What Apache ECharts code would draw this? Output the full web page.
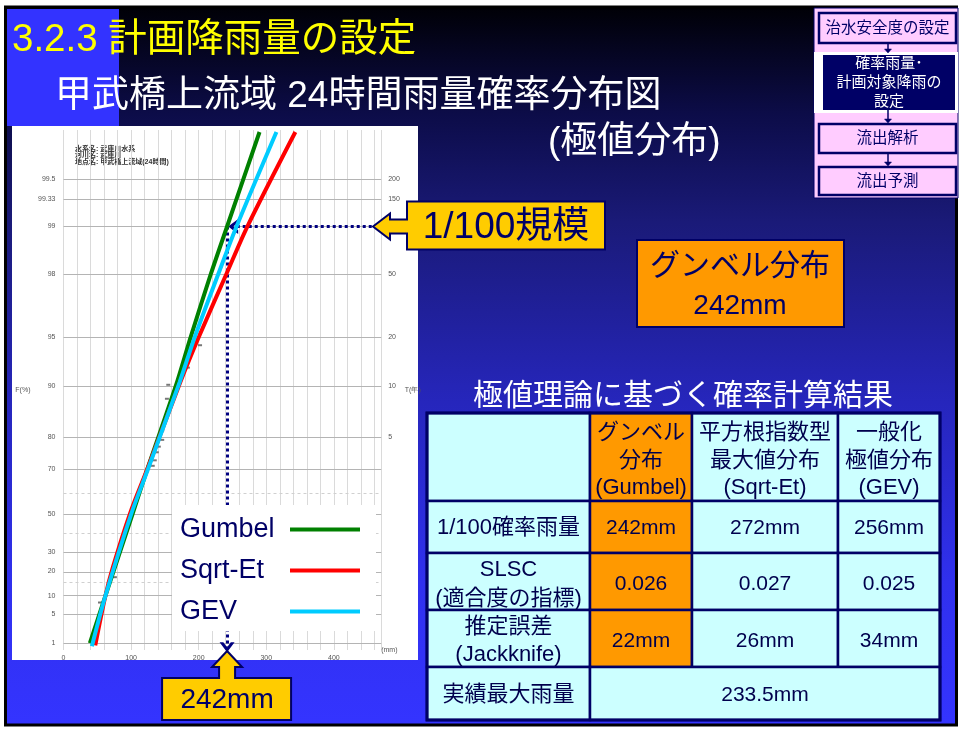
<!DOCTYPE html>
<html>
<head>
<meta charset="utf-8">
<script src="https://cdn.jsdelivr.net/npm/echarts@6/dist/echarts.min.js"></script>
<style>
html,body{margin:0;padding:0;background:#fff;}
#c{width:960px;height:731px;}
</style>
</head>
<body>
<div id="c"></div>
<script>
// ---- Gumbel probability paper: tick labels ----
const probTicks = ['1', '5', '10', '20', '30', '50', '70', '80', '90', '95', '98', '99', '99.33', '99.5'];
const periodTicks = ['5', '10', '20', '50', '100', '150', '200'];
const minorProbs = ['40', '60', '15'];

// ---- fitted distributions: [24h rainfall (mm), non-exceedance probability (%)] ----
const gumbelPts = [[39, 1], [62, 10], [102, 50], [125, 70.7], [166, 90], [188, 95], [218, 98], [242, 99], [290, 99.75]];
const sqrtEtPts = [[47, 0.85], [62, 10], [73, 22], [98, 50], [125, 70.7], [173, 90.6], [200, 95], [241, 98], [272, 99], [343, 99.75]];
const gevPts = [[42, 0.8], [62, 10], [100, 50], [126, 70.7], [172, 90.6], [194, 95], [229, 98], [256, 99], [315, 99.75]];

// ---- plotted annual maxima ----
const observedPts = [[202, 94.4], [184, 92.3], [155, 90.2], [153, 88.1], [146, 81.7], [146, 79.3], [141, 77.4], [138, 75.7], [135, 73.1], [132, 71.2], [76, 17.4], [54, 7.9]];

// ---- design rainfall (1/100) ----
const designRain = 242;
const designProb = 99;

// ---- results table ----
const methodHeads = [['グンベル', '分布', '(Gumbel)'], ['平方根指数型', '最大値分布', '(Sqrt-Et)'], ['一般化', '極値分布', '(GEV)']];
const rowHeads = [['1/100確率雨量'], ['SLSC', '(適合度の指標)'], ['推定誤差', '(Jackknife)'], ['実績最大雨量']];
const rain100 = ['242mm', '272mm', '256mm'];
const slscVals = ['0.026', '0.027', '0.025'];
const jackknifeVals = ['22mm', '26mm', '34mm'];
const observedMax = '233.5mm';

// ---- planning flow ----
const flowSteps = ['治水安全度の設定', ['確率雨量･', '計画対象降雨の', '設定'], '流出解析', '流出予測'];

const FONT = '"Liberation Sans","Noto Sans CJK JP",sans-serif';
const NAVY = '#000066';
const TXT = '#00004d';

// Gumbel reduced variate of a non-exceedance probability in %
const gv = p => -Math.log(-Math.log(p / 100));
const toXY = pts => pts.map(([mm, p]) => [mm, gv(p)]);
const probVals = probTicks.map(t => gv(+t));
const periodVals = periodTicks.map(t => gv(100 * (1 - 1 / +t)));
const nearest = (vals, labels) => v => {
  let bi = 0;
  vals.forEach((x, i) => { if (Math.abs(x - v) < Math.abs(vals[bi] - v)) bi = i; });
  return labels[bi];
};

const chart = echarts.init(document.getElementById('c'));

const chevron = 'path://M0,12 L8,0 L16,12 L12,12 L8,6 L4,12 Z';

chart.setOption({
  animation: false,
  grid: { left: 63.5, top: 130, width: 317.7, height: 520 },
  xAxis: {
    type: 'value', min: 0, max: 470, interval: 20,
    axisLine: { show: false, onZero: false }, axisTick: { show: false },
    splitLine: { lineStyle: { color: '#dadada', width: 1 } },
    axisLabel: { fontSize: 7, color: '#555', margin: 5, showMaxLabel: false,
      formatter: v => (v % 100 === 0 ? String(v) : '') },
    name: '(mm)', nameLocation: 'end', nameGap: 0,
    nameTextStyle: { fontSize: 7, color: '#555', padding: [12, 0, 0, 0] }
  },
  yAxis: [{
    type: 'value', min: -1.63, max: 6.02,
    axisLine: { show: false, onZero: false }, axisTick: { show: false }, splitLine: { show: false },
    axisLabel: { customValues: probVals, formatter: nearest(probVals, probTicks), fontSize: 7, color: '#555', margin: 8 },
    name: 'F(%)', nameLocation: 'middle', nameRotate: 0, nameGap: 33,
    nameTextStyle: { fontSize: 7, color: '#555' }
  }, {
    type: 'value', min: -1.63, max: 6.02, position: 'right',
    axisLine: { show: false, onZero: false }, axisTick: { show: false }, splitLine: { show: false },
    axisLabel: { customValues: periodVals, formatter: nearest(periodVals, periodTicks), fontSize: 7, color: '#555', margin: 7 },
    name: 'T(年)', nameLocation: 'middle', nameRotate: 0, nameGap: 22,
    nameTextStyle: { fontSize: 7, color: '#555' }
  }],
  legend: {
    data: ['Gumbel', 'Sqrt-Et', 'GEV'],
    orient: 'vertical', left: 172, top: 505, align: 'right',
    backgroundColor: '#ffffff',
    padding: [11, 16, 6, 8], itemGap: 14,
    icon: 'rect', itemWidth: 70, itemHeight: 4, selectedMode: false,
    formatter: name => '{t|' + name + '}',
    textStyle: { fontSize: 27, color: NAVY, fontFamily: FONT,
      rich: { t: { width: 105, align: 'left', fontSize: 27, color: NAVY, fontFamily: FONT } } }
  },
  series: [
    {
      name: 'obs', type: 'scatter', data: toXY(observedPts),
      symbol: 'rect', symbolSize: [4, 2], itemStyle: { color: '#555' }, silent: true, z: 1,
      markLine: {
        z: 1, silent: true, symbol: 'none', label: { show: false }, animation: false,
        lineStyle: { color: '#b4b4b4', width: 1, type: 'solid' },
        data: probVals.map(v => ({ yAxis: v })).concat(
          minorProbs.map(t => ({ yAxis: gv(+t), lineStyle: { color: '#d0d0d0', type: [3, 3] } })))
      }
    },
    { name: 'Gumbel', type: 'line', data: toXY(gumbelPts), smooth: 0.3, showSymbol: false,
      lineStyle: { color: '#008000', width: 4 }, itemStyle: { color: '#008000' }, silent: true },
    { name: 'Sqrt-Et', type: 'line', data: toXY(sqrtEtPts), smooth: 0.3, showSymbol: false,
      lineStyle: { color: '#ff0000', width: 4 }, itemStyle: { color: '#ff0000' }, silent: true },
    { name: 'GEV', type: 'line', data: toXY(gevPts), smooth: 0.3, showSymbol: false,
      lineStyle: { color: '#00ccff', width: 4 }, itemStyle: { color: '#00ccff' }, silent: true },
    {
      name: 'design', type: 'line', data: [[designRain, gv(designProb)]], showSymbol: false,
      lineStyle: { opacity: 0 }, silent: true, z: 3,
      markLine: {
        z: 3, silent: true, label: { show: false }, animation: false,
        symbol: ['none', chevron], symbolSize: [15, 10],
        lineStyle: { color: '#000080', width: 3, type: [3, 3] },
        data: [
          [{ coord: [456, gv(designProb)] }, { coord: [designRain + 9, gv(designProb)] }],
          [{ coord: [designRain, gv(designProb)] }, { coord: [designRain, gv(0.75)] }]
        ]
      }
    }
  ]
});

// ---- slide decoration (graphic layer) ----
const els = [];
const rect = (x, y, w, h, fill, stroke, lw, z) => els.push({
  type: 'rect', silent: true, z: z, shape: { x, y, width: w, height: h },
  style: { fill, stroke: stroke || null, lineWidth: lw || 0 }
});
const text = (x, y, str, size, color, align, z, weight) => els.push({
  type: 'text', silent: true, z: z == null ? 40 : z, x, y,
  style: { text: str, fill: color, fontSize: size, fontFamily: FONT, fontWeight: weight || 'normal',
    align: align || 'center', verticalAlign: 'middle' }
});
const poly = (pts, fill, stroke, lw, z) => els.push({
  type: 'polygon', silent: true, z, shape: { points: pts }, style: { fill, stroke, lineWidth: lw }
});

// slide background
els.push({
  type: 'rect', silent: true, z: -20, shape: { x: 5.5, y: 7, width: 951, height: 718 },
  style: {
    stroke: '#000', lineWidth: 3,
    fill: { type: 'linear', x: 0, y: 0, x2: 0, y2: 1, colorStops: [
      { offset: 0, color: '#000005' }, { offset: 0.15, color: '#0c0c48' }, { offset: 0.3, color: '#1a1a78' },
      { offset: 0.55, color: '#2626bc' }, { offset: 0.8, color: '#3030ee' }, { offset: 1, color: '#3434ff' }] }
  }
});
rect(7, 9, 112, 117, '#3333ff', null, 0, -19);
// chart paper
rect(12, 126, 406, 534, '#ffffff', null, 0, -18);
text(75, 149, '水系名: 武庫川水系', 7, '#333', 'left', -17, 'bold');
text(75, 155.5, '河川名: 武庫川', 7, '#333', 'left', -17, 'bold');
text(75, 162, '地点名: 甲武橋上流域(24時間)', 7, '#333', 'left', -17, 'bold');

// titles
text(12, 40, '3.2.3 計画降雨量の設定', 38.5, '#ffff00', 'left');
text(55, 97, '甲武橋上流域 24時間雨量確率分布図', 37, '#ffffff', 'left');
text(548, 143, '(極値分布)', 37, '#ffffff', 'left');

// planning flow panel
rect(814, 8, 144, 190, '#ffccff', NAVY, 1, 10);
const boxes = [[13, 30], [55, 55], [124, 29], [167, 28]];
rect(814, 52, 144, 61, '#ffffff', null, 0, 11);
boxes.forEach(([y, h], i) => {
  if (i === 1) {
    rect(823, y, 132, h, '#000066', null, 0, 12);
    flowSteps[1].forEach((s, k) => text(889, 64 + k * 19, s, 15, '#ffffff', 'center', 13));
  } else {
    rect(819, y, 137, h, '#ffccff', NAVY, 2.5, 12);
    text(887.5, y + h / 2 + 0.5, flowSteps[i], 15.5, NAVY, 'center', 13);
  }
});
[[43, 53], [110, 123], [153, 166]].forEach(([a, b]) => {
  els.push({ type: 'line', silent: true, z: 13, shape: { x1: 888, y1: a, x2: 888, y2: b - 3 }, style: { stroke: NAVY, lineWidth: 1.5 } });
  poly([[884.5, b - 4], [891.5, b - 4], [888, b]], NAVY, NAVY, 0.5, 13);
});

// highlighted result box
rect(637, 240, 207, 87, '#ff9900', NAVY, 2, 10);
text(740, 267, 'グンベル分布', 30, NAVY);
text(740, 306, designRain + 'mm', 28, NAVY);

// results table
text(683, 397, '極値理論に基づく確率計算結果', 30, '#ffffff');
const colX = [427, 590, 692, 838, 940];
const rowY = [413, 501, 553, 610, 667, 720];
for (let r = 0; r < 5; r++) {
  for (let c = 0; c < 4; c++) {
    if (r === 4 && c > 1) continue;
    const w = (r === 4 && c === 1) ? colX[4] - colX[1] : colX[c + 1] - colX[c];
    const fill = (c === 1 && r < 4) ? '#ff9900' : '#ccffff';
    rect(colX[c], rowY[r], w, rowY[r + 1] - rowY[r], fill, NAVY, 2.5, 10);
  }
}
rect(colX[0], rowY[0], colX[4] - colX[0], rowY[5] - rowY[0], null, NAVY, 3, 11);
const cx = c => (colX[c] + colX[c + 1]) / 2;
methodHeads.forEach((lines, i) => lines.forEach((s, k) => text(cx(i + 1), 433 + k * 27.5, s, 22, TXT)));
const rowLineY = [[528], [570, 599], [627, 655], [695]];
rowHeads.forEach((lines, r) => lines.forEach((s, k) => text(cx(0), rowLineY[r][k], s, 22, TXT)));
rain100.forEach((s, i) => text(cx(i + 1), 528, s, 21, TXT));
slscVals.forEach((s, i) => text(cx(i + 1), 584, s, 21, TXT));
jackknifeVals.forEach((s, i) => text(cx(i + 1), 641, s, 21, TXT));
text((colX[1] + colX[4]) / 2, 695, observedMax, 21, TXT);

// callouts pointing at the design value on the paper
const tipY = chart.convertToPixel({ yAxisIndex: 0 }, gv(designProb));
const tipX = chart.convertToPixel({ xAxisIndex: 0 }, designRain);
const ax = 373, ay = tipY;
poly([[ax, ay], [ax + 17, ay - 13], [ax + 17, ay - 7], [ax + 34, ay - 7], [ax + 34, ay - 25], [ax + 232, ay - 25],
  [ax + 232, ay + 23], [ax + 34, ay + 23], [ax + 34, ay + 7], [ax + 17, ay + 7], [ax + 17, ay + 13]], '#ffcc00', NAVY, 2, 50);
text(ax + 133, ay + 1, '1/100規模', 37, NAVY, 'center', 51);
const bx = tipX, by = 651;
poly([[bx, by], [bx + 15, by + 16], [bx + 8, by + 16], [bx + 8, by + 27], [bx + 64, by + 27], [bx + 64, by + 69],
  [bx - 65, by + 69], [bx - 65, by + 27], [bx - 8, by + 27], [bx - 8, by + 16], [bx - 15, by + 16]], '#ffcc00', NAVY, 2, 50);
text(bx, by + 49, designRain + 'mm', 28, NAVY, 'center', 51);

chart.setOption({ graphic: { elements: els } });
</script>
</body>
</html>
